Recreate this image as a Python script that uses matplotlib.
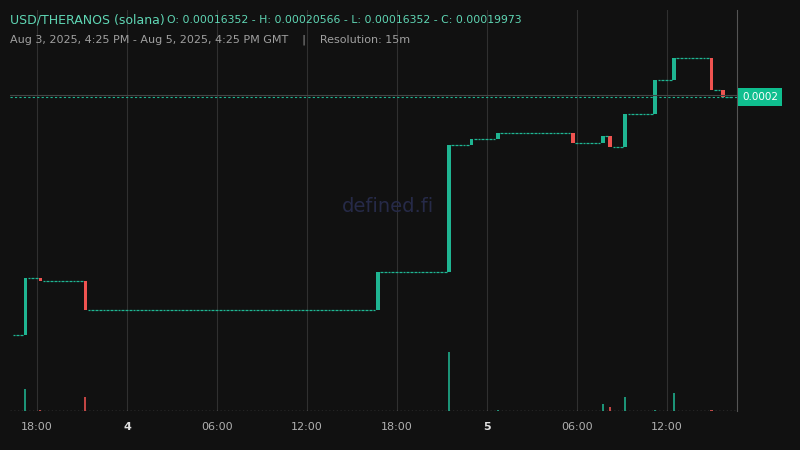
import matplotlib
matplotlib.use("Agg")
import matplotlib.pyplot as plt
import numpy as np

n_candles = 192
start_close = 0.00016352
# candle index where price changes, and close after change
event_idx = [3, 7, 19, 97, 116, 122, 129, 149, 157, 159, 163, 171, 176, 186, 189]
event_close = [0.00017221, 0.00017175, 0.00016734, 0.00017312, 0.00019243, 0.00019334,
               0.00019426, 0.00019274, 0.00019380, 0.00019213, 0.00019715, 0.00020231,
               0.00020566, 0.00020079, 0.00019973]
vol_idx = [3, 7, 19, 116, 129, 157, 159, 163, 171, 176, 186]
vol_val = [22, 1, 14, 59, 1, 7, 4, 14, 1, 18, 1]
tick_hours = [1.583, 7.583, 13.583, 19.583, 25.583, 31.583, 37.583, 43.583]
tick_labels = ["18:00", "4", "06:00", "12:00", "18:00", "5", "06:00", "12:00"]

GREEN = "#1fb592"; RED = "#ef5350"; BG = "#111111"

closes = np.full(n_candles, start_close)
for i, c in zip(event_idx, event_close):
    closes[i:] = c
opens = np.concatenate([[start_close], closes[:-1]])
vols = np.zeros(n_candles)
for i, v in zip(vol_idx, vol_val):
    vols[i] = v
t = np.arange(n_candles) * 0.25 + 0.05

def p_of(y):
    return 0.00019973 + (97 - y) * 1.5205e-7

fig = plt.figure(figsize=(8, 4.5), dpi=100, facecolor=BG)
ax = fig.add_axes([10/800, 1-411/450, 727/800, 401/450], facecolor=BG)
ax.set_xlim(-0.22, 48.25)
ax.set_ylim(p_of(411), p_of(10))
for s in ax.spines.values():
    s.set_visible(False)
ax.spines['right'].set_visible(True); ax.spines['right'].set_color('#555555')
ax.set_yticks([])
ax.set_xticks(tick_hours)
ax.set_xticklabels(tick_labels)
for lbl in ax.get_xticklabels():
    lbl.set_color('#e0e0e0' if lbl.get_text() in ("4", "5") else '#b0b0b0')
    lbl.set_fontsize(8)
    if lbl.get_text() in ("4", "5"):
        lbl.set_fontweight('bold')
ax.tick_params(axis='x', length=0, pad=8)
ax.grid(axis='x', color='#303030', lw=0.8)

ax.axhline(p_of(95), color='#444444', lw=0.8)
ax.axhline(0.00019973, color=GREEN, lw=0.8, ls=(0, (2, 2)))

w = 0.25
for ti, o, c in zip(t, opens, closes):
    if abs(c - o) < 1e-12:
        ax.hlines(c, ti - w*0.35, ti + w*0.35, color=GREEN, lw=0.9)
    else:
        col = GREEN if c > o else RED
        ax.bar(ti, c - o, bottom=o, width=w*0.95, color=col, linewidth=0)

axv = ax.twinx()
axv.set_ylim(0, 401)
axv.set_axis_off()
vcols = [GREEN if c >= o else RED for o, c in zip(opens, closes)]
axv.bar(t, vols, width=w*0.55, color=[matplotlib.colors.to_rgba(c, 0.8) for c in vcols], linewidth=0)
axv.axhline(0.3, color='#aaaaaa', lw=0.9, ls=(0, (1, 2)))

fig.text(760/800, 1-97/450, "0.0002", ha='center', va='center', fontsize=7.5, color='white',
         bbox=dict(boxstyle='square,pad=0.35', fc='#0fbf8f', ec='none'))

fig.text(10/800, 1-20/450, "USD/THERANOS (solana)", fontsize=9, color='#5fd6b4', va='center')
fig.text(167/800, 1-20/450, "O: 0.00016352 - H: 0.00020566 - L: 0.00016352 - C: 0.00019973",
         fontsize=7.8, color='#5fd6b4', va='center')
fig.text(10/800, 1-40/450, "Aug 3, 2025, 4:25 PM - Aug 5, 2025, 4:25 PM GMT    |    Resolution: 15m",
         fontsize=8, color='#a0a0a0', va='center')
fig.text(388/800, 1-207/450, "defined.fi", fontsize=14, color='#262a48', ha='center', va='center')

fig.savefig("out.png", dpi=100, facecolor=BG)
